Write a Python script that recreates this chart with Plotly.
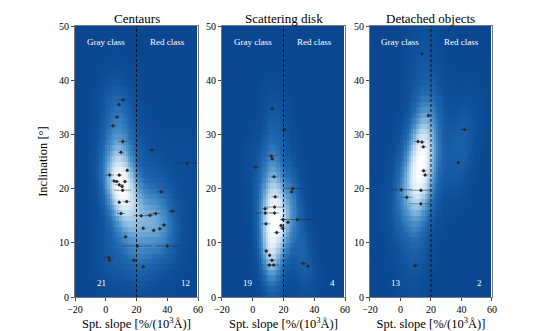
import numpy as np
import plotly.graph_objects as go

# Centaurs
cen_x = [11.2, 8.6, 7.3, 4.7, 11.0, 9.9, 30.1, 52.8, 14.0, 2.5, 8.8, 5.4, 7.1, 12.5, 8.8, 10.6, 11.0, 36.1,
         8.8, 13.6, 9.9, 23.1, 28.8, 32.5, 43.3, 37.9, 24.4, 35.1, 31.2, 12.9, 20.5, 40.0, 1.9, 2.5, 18.4, 24.4]
cen_y = [36.4, 35.5, 33.2, 31.6, 28.7, 26.7, 27.1, 24.7, 23.4, 22.5, 22.5, 21.4, 21.3, 21.3, 20.7, 20.4, 19.7, 19.4,
         17.5, 17.6, 15.4, 15.0, 15.1, 15.4, 15.8, 13.3, 12.7, 12.6, 12.3, 11.1, 9.4, 9.4, 7.3, 6.8, 6.8, 5.6]
cen_xerr = [2.5, 1, 1, 2.5, 3, 2, 2.5, 7.5, 1, 3, 2, 2, 2, 1.5, 3, 1.5, 5.5, 2.5,
            1, 2.5, 2.5, 5, 2.5, 3, 3, 2, 1, 1.5, 1.5, 1.5, 10, 8, 3.5, 1, 2, 1]

# Scattering disk
sd_x = [12.7, 20.4, 12.1, 12.7, 1.9, 13.8, 26.0, 25.3, 14.6, 14.2, 8.0, 8.2, 14.2, 19.7, 29.0, 22.9, 8.6,
        18.4, 19.5, 15.6, 8.8, 11.0, 12.5, 10.8, 13.6, 33.0, 35.8]
sd_y = [34.8, 30.9, 26.0, 25.5, 24.0, 22.2, 20.0, 19.4, 18.5, 16.6, 16.3, 15.5, 15.5, 14.3, 14.3, 13.8, 13.5,
        13.2, 12.7, 11.9, 8.5, 7.7, 6.8, 5.9, 5.9, 6.2, 5.7]
sd_xerr = [1.5, 2, 3.5, 1.5, 3, 2, 6, 1, 2.5, 6.5, 2, 7, 3, 2, 10.5, 1.5, 3,
           1.5, 2, 2, 1.5, 1, 2, 2, 3, 2.5, 1]

# Detached objects
det_x = [14.1, 18.3, 41.9, 37.9, 11.5, 14.1, 15.0, 15.2, 16.2, 0.5, 13.4, 4.1, 13.3, 9.8]
det_y = [44.9, 33.5, 30.9, 24.8, 28.7, 28.6, 27.7, 23.3, 22.5, 19.8, 19.7, 18.4, 17.2, 5.8]
det_xerr = [0.5, 1, 3, 1, 3, 2, 2, 2, 2, 7, 7, 4, 7.5, 2]

titles = ["Centaurs", "Scattering disk", "Detached objects"]
gray_counts = ["21", "19", "13"]
red_counts = ["12", "4", "2"]
panels = [(cen_x, cen_y, cen_xerr), (sd_x, sd_y, sd_xerr), (det_x, det_y, det_xerr)]

gx = np.arange(-19.25, 60, 1.5)
gy = np.arange(0.5, 50, 1.0)

SERIF = "Times New Roman, Liberation Serif, serif"


def kde(xs, ys):
    pts = np.vstack([xs, ys])
    n = pts.shape[1]
    f = n ** (-1.0 / 6) * 1.1
    cov = np.cov(pts) * f ** 2
    inv = np.linalg.inv(cov)
    X, Y = np.meshgrid(gx, gy)
    z = np.zeros_like(X)
    for px, py in zip(xs, ys):
        dx = X - px
        dy = Y - py
        z += np.exp(-0.5 * (inv[0, 0] * dx * dx + 2 * inv[0, 1] * dx * dy + inv[1, 1] * dy * dy))
    return z / z.max()


cscale = [[0, "#0a4790"], [0.15, "#0f519c"], [0.35, "#2068b0"], [0.55, "#4f93ca"],
          [0.72, "#9cc6e5"], [0.87, "#deebf7"], [1, "#ffffff"]]

domains = [[0, 0.295], [0.3525, 0.6475], [0.7074, 1]]
fig = go.Figure()
for i, (xs, ys, xe) in enumerate(panels):
    n = "" if i == 0 else str(i + 1)
    fig.add_trace(go.Heatmap(x=gx, y=gy, z=kde(xs, ys), colorscale=cscale, zmin=0, zmax=1,
                             showscale=False, xaxis="x" + n, yaxis="y" + n, zsmooth=False))
    fig.add_trace(go.Scatter(x=xs, y=ys, mode="markers", xaxis="x" + n, yaxis="y" + n,
                             marker=dict(color="#2a2a2a", size=3),
                             error_x=dict(type="data", array=xe, color="rgba(40,40,40,0.65)", thickness=0.7, width=0),
                             error_y=dict(type="constant", value=0.35, color="rgba(40,40,40,0.65)", thickness=0.7, width=0),
                             showlegend=False))
    fig.add_shape(type="line", x0=20, x1=20, y0=0, y1=50, xref="x" + n, yref="y" + n,
                  line=dict(color="#111", width=1, dash="3px,2px"))
    tf = dict(family=SERIF, color="white", size=9)
    fig.add_annotation(x=0, y=47, text="Gray class", showarrow=False, xref="x" + n, yref="y" + n, font=tf)
    fig.add_annotation(x=40, y=47, text="Red class", showarrow=False, xref="x" + n, yref="y" + n, font=tf)
    fig.add_annotation(x=-3, y=2.5, text=gray_counts[i], showarrow=False, xref="x" + n, yref="y" + n, font=tf)
    fig.add_annotation(x=52, y=2.5, text=red_counts[i], showarrow=False, xref="x" + n, yref="y" + n, font=tf)
    fig.add_annotation(x=sum(domains[i]) / 2, y=1, xref="paper", yref="paper", xanchor="center",
                       yanchor="bottom", text=titles[i], showarrow=False, yshift=-2,
                       font=dict(family=SERIF, size=13, color="black"))
    ax = dict(domain=domains[i], range=[-20, 60], tickvals=[-20, 0, 20, 40, 60], ticks="outside",
              ticklen=3, showgrid=False, zeroline=False, showline=True, linecolor="#777", linewidth=0.8,
              mirror=True, anchor="y" + n,
              title=dict(text="Spt. slope [%/(10<sup>3</sup>Å)]", standoff=3,
                         font=dict(family=SERIF, size=12.5)))
    ay = dict(range=[0, 50], tickvals=[0, 10, 20, 30, 40, 50], ticks="outside", ticklen=3,
              showgrid=False, zeroline=False, showline=True, linecolor="#777", linewidth=0.8,
              mirror=True, anchor="x" + n)
    if i == 0:
        ay["title"] = dict(text="Inclination [°]", standoff=8, font=dict(family=SERIF, size=12.5))
    fig.update_layout({"xaxis" + n: ax, "yaxis" + n: ay})

fig.update_layout(width=538, height=331, margin=dict(l=67, r=54, t=15, b=40),
                  paper_bgcolor="white", plot_bgcolor="white",
                  font=dict(family=SERIF, size=10, color="black"))
fig.write_html("out.html")
